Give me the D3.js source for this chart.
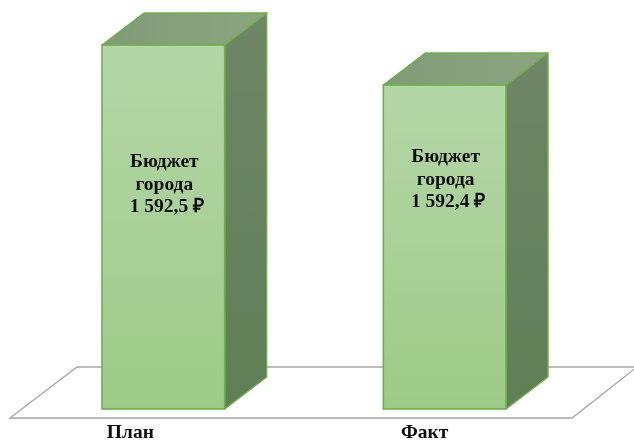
<!DOCTYPE html>
<html><head><meta charset="utf-8">
<script src="https://cdn.jsdelivr.net/npm/d3@7"></script>
<style>html,body{margin:0;padding:0;background:#fff}svg{display:block}
text{font-family:"Liberation Serif","Times New Roman",serif;font-weight:bold;fill:#111}</style>
</head><body><svg id="c" width="634" height="442"></svg>
<script>
const categories = ["План", "Факт"];
const budgetValues = [1592.5, 1592.4];
const valueLabels = ["1 592,5 ₽", "1 592,4 ₽"];
const seriesName = ["Бюджет", "города"];

const svg = d3.select("#c");
const W = 634, H = 442;
const depthX = 42, depthY = 32;
// truncated value axis, as the bars in the picture imply
const y = d3.scaleLinear().domain([1591.59, 1592.5]).range([409, 45]);
const x = d3.scaleBand().domain(categories).range([102, 506]).paddingInner(0.564).paddingOuter(0);
const line = d3.line();

const defs = svg.append("defs");
function grad(id, stops, x2, y2) {
  const g = defs.append("linearGradient").attr("id", id).attr("x1", 0).attr("y1", 0).attr("x2", x2).attr("y2", y2);
  stops.forEach((c, i) => g.append("stop").attr("offset", i / (stops.length - 1)).attr("stop-color", c));
}
grad("front", ["#b4d6a7", "#9dcb87"], 0, 1);
grad("side", ["#6f8667", "#5f7f55"], 0, 1);
grad("top", ["#7f9b75", "#8ca580"], 1, 0);

const root = svg.append("g").attr("filter", "url(#soft)");
defs.append("filter").attr("id", "soft").append("feGaussianBlur").attr("stdDeviation", 0.35);

// floor
const fy0 = y.range()[0];
root.append("path")
  .attr("d", line([[10, fy0 + 9], [77, fy0 - 42], [W + 3, fy0 - 42], [572, fy0 + 9]]) + "Z")
  .attr("fill", "#fff").attr("stroke", "#a6a6a6").attr("stroke-width", 1.3);

const edge = "#72ad4e";
const bars = root.selectAll("g.bar").data(categories.map((c, i) => ({ c, v: budgetValues[i], l: valueLabels[i] })))
  .join("g").attr("class", "bar");

bars.append("path").attr("fill", "url(#side)").attr("stroke", edge).attr("stroke-width", 1.4).attr("stroke-linejoin", "round")
  .attr("d", d => { const r = x(d.c) + x.bandwidth(), t = y(d.v), b = y.range()[0];
    return line([[r, t], [r + depthX, t - depthY], [r + depthX, b - depthY], [r, b]]) + "Z"; });
bars.append("path").attr("fill", "url(#top)").attr("stroke", edge).attr("stroke-width", 1.4).attr("stroke-linejoin", "round")
  .attr("d", d => { const l = x(d.c), r = l + x.bandwidth(), t = y(d.v);
    return line([[l, t], [l + depthX, t - depthY], [r + depthX, t - depthY], [r, t]]) + "Z"; });
bars.append("rect").attr("fill", "url(#front)").attr("stroke", edge).attr("stroke-width", 1.6)
  .attr("x", d => x(d.c)).attr("y", d => y(d.v)).attr("width", x.bandwidth()).attr("height", d => y.range()[0] - y(d.v));

// labels inside the bars
const labelTop = { "План": 167, "Факт": 162 };
const lines = bars.append("text").attr("text-anchor", "middle").style("font-size", "19.5px");
lines.selectAll("tspan").data(d => [...seriesName, d.l].map(t => ({ t, d }))).join("tspan")
  .attr("x", p => x(p.d.c) + x.bandwidth() / 2 + 2.5 * (p.t === p.d.l ? 1 : 0) + 1)
  .attr("y", (p, i) => labelTop[p.d.c] + i * 22.5)
  .text(p => p.t);

// category labels
bars.append("text").attr("text-anchor", "middle").style("font-size", "19.5px")
  .attr("x", (d, i) => x(d.c) + x.bandwidth() / 2 + (i ? -20 : -33))
  .attr("y", 437.5).text(d => d.c);
</script></body></html>
